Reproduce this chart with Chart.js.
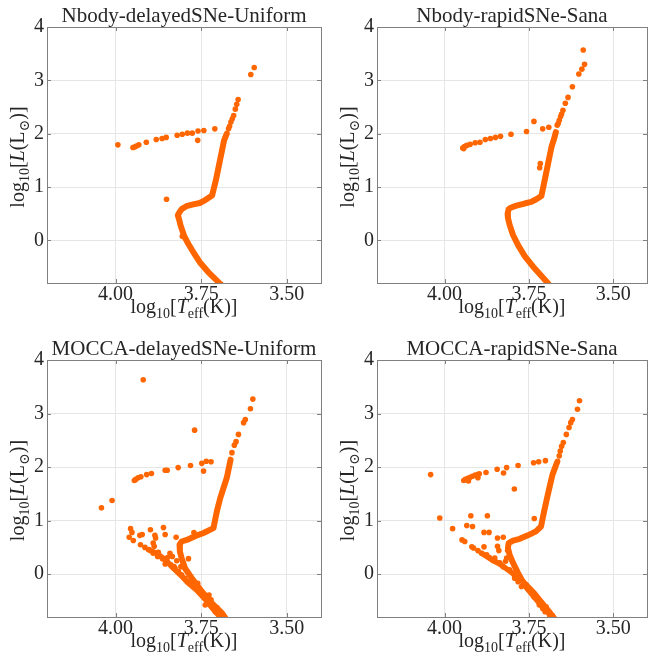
<!DOCTYPE html>
<html>
<head>
<meta charset="utf-8">
<script src="https://cdn.jsdelivr.net/npm/chart.js"></script>
<style>
  body { margin: 0; background: #fff; }
  #wrap { position: relative; width: 651px; height: 663px; overflow: hidden; }
  #wrap canvas { position: absolute; }
</style>
</head>
<body>
<div id="wrap">
  <canvas id="c1" width="325" height="330" style="left:0;top:0"></canvas>
  <canvas id="c2" width="326" height="330" style="left:325px;top:0"></canvas>
  <canvas id="c3" width="325" height="333" style="left:0;top:330px"></canvas>
  <canvas id="c4" width="326" height="333" style="left:325px;top:330px"></canvas>
</div>
<script>
const xTicks = [4.0, 3.75, 3.5];
const xTickLabels = ['4.00', '3.75', '3.50'];
const yTicks = [0, 1, 2, 3, 4];
const yTickLabels = ['0', '1', '2', '3', '4'];
const panelTitles = ['Nbody-delayedSNe-Uniform', 'Nbody-rapidSNe-Sana', 'MOCCA-delayedSNe-Uniform', 'MOCCA-rapidSNe-Sana'];

// [log10 Teff, log10 L] - dense single-star sequence of each panel
const nbodyDelayedTrack = [[3.675,2.00],[3.683,1.875],[3.695,1.50],[3.707,1.125],[3.718,0.84],[3.739,0.75],[3.754,0.70],[3.773,0.675],[3.793,0.64],[3.806,0.59],[3.813,0.53],[3.818,0.47],[3.815,0.41],[3.810,0.28],[3.800,0.09],[3.788,-0.06],[3.773,-0.22],[3.754,-0.41],[3.730,-0.59],[3.695,-0.81],[3.685,-0.87]];
const nbodyDelayedStars = [[3.595,3.24],[3.605,3.11],[3.642,2.64],[3.646,2.55],[3.650,2.46],[3.655,2.34],[3.659,2.28],[3.663,2.22],[3.667,2.14],[3.670,2.09],
  [3.993,1.79],[3.949,1.74],[3.944,1.75],[3.939,1.77],[3.932,1.79],[3.910,1.84],[3.881,1.89],[3.864,1.91],[3.852,1.93],[3.820,1.97],[3.805,1.99],[3.790,2.01],[3.776,2.01],[3.759,2.05],[3.742,2.06],[3.710,2.09],[3.760,1.875],[3.851,0.77],[3.805,0.075]];

const nbodyRapidTrack = [[3.670,2.03],[3.675,1.91],[3.683,1.75],[3.694,1.41],[3.704,1.10],[3.713,0.83],[3.728,0.77],[3.743,0.72],[3.763,0.69],[3.787,0.65],[3.804,0.61],[3.810,0.585],[3.813,0.50],[3.812,0.42],[3.807,0.29],[3.797,0.10],[3.782,-0.09],[3.763,-0.29],[3.738,-0.49],[3.714,-0.66],[3.694,-0.80],[3.687,-0.86]];
const nbodyRapidStars = [[3.589,3.57],[3.585,3.30],[3.593,3.21],[3.602,3.12],[3.621,2.88],[3.634,2.68],[3.642,2.57],[3.649,2.44],[3.653,2.37],[3.656,2.32],[3.660,2.25],[3.663,2.19],[3.666,2.16],
  [3.735,2.23],[3.709,2.09],[3.691,2.12],[3.757,2.04],[3.803,1.99],[3.834,1.95],[3.849,1.93],[3.864,1.91],[3.879,1.89],[3.895,1.84],[3.909,1.83],[3.924,1.80],[3.934,1.78],[3.941,1.76],[3.946,1.73],[3.943,1.72],[3.716,1.44],[3.718,1.36]];

const moccaDelayedTrack = [[3.664,2.14],[3.675,1.80],[3.694,1.425],[3.704,1.175],[3.714,0.86],[3.743,0.77],[3.768,0.71],[3.792,0.64],[3.807,0.61],[3.813,0.55],[3.812,0.425],[3.807,0.30],[3.797,0.11],[3.777,-0.075],[3.748,-0.325],[3.719,-0.54],[3.689,-0.73],[3.675,-0.86]];
// binary (lower) sequence that runs alongside the main sequence
const moccaDelayedBinaries = [[3.904,0.456],[3.880,0.39],[3.855,0.27],[3.831,0.11],[3.811,-0.01],[3.787,-0.17],[3.763,-0.30],[3.738,-0.47],[3.714,-0.66],[3.700,-0.76],[3.690,-0.86]];
const moccaDelayedStars = [[3.919,3.63],[3.599,3.27],[3.606,3.09],[3.621,2.89],[3.626,2.83],[3.641,2.61],[3.648,2.475],[3.653,2.41],[3.660,2.27],[3.769,2.69],
  [3.735,2.11],[3.721,2.10],[3.748,2.07],[3.743,1.925],[3.781,2.03],[3.817,1.99],[3.849,1.94],[3.855,1.94],[3.895,1.88],[3.909,1.86],[3.926,1.82],[3.934,1.80],[3.941,1.77],[3.945,1.75],[4.010,1.375],[4.041,1.24],
  [3.956,0.85],[3.952,0.78],[3.960,0.69],[3.948,0.63],[3.929,0.725],[3.922,0.74],[3.898,0.83],[3.860,0.87],[3.885,0.725],[3.883,0.675],[3.855,0.74],[3.823,0.69],[3.771,0.775],
  [3.927,0.55],[3.914,0.50],[3.890,0.58],[3.887,0.52],[3.875,0.41],[3.902,0.46],[3.890,0.39],[3.877,0.33],[3.863,0.29],[3.850,0.24],[3.838,0.175],[3.826,0.11],[3.816,0.05],[3.807,-0.01],[3.797,-0.075],[3.787,-0.14],
  [3.841,0.39],[3.834,0.33],[3.848,0.31],[3.855,0.19],[3.829,0.14],[3.809,0.14],[3.787,0.29],[3.821,0.25],
  [3.775,-0.17],[3.763,-0.23],[3.760,-0.17],[3.753,-0.29],[3.743,-0.375],[3.733,-0.45],[3.728,-0.525],[3.721,-0.48],[3.714,-0.59],[3.704,-0.625],[3.697,-0.70],[3.691,-0.75],[3.685,-0.775],[3.709,-0.70],[3.727,-0.39],[3.738,-0.575]];

const moccaRapidTrack = [[3.667,2.08],[3.680,1.86],[3.687,1.675],[3.696,1.425],[3.706,1.14],[3.714,0.89],[3.729,0.80],[3.753,0.725],[3.777,0.66],[3.797,0.625],[3.810,0.58],[3.812,0.49],[3.807,0.36],[3.797,0.21],[3.782,0.02],[3.763,-0.20],[3.738,-0.39],[3.714,-0.575],[3.689,-0.73],[3.670,-0.86]];
const moccaRapidBinaries = [[3.890,0.39],[3.860,0.27],[3.836,0.19],[3.812,0.08],[3.792,-0.01],[3.772,-0.11],[3.753,-0.23],[3.733,-0.36],[3.714,-0.51],[3.689,-0.70],[3.675,-0.83],[3.670,-0.87]];
const moccaRapidStars = [[3.600,3.24],[3.606,3.08],[3.621,2.89],[3.626,2.83],[3.631,2.74],[3.639,2.61],[3.648,2.46],[3.653,2.39],[3.657,2.30],[3.660,2.21],[3.665,2.11],
  [4.041,1.86],[3.943,1.75],[3.938,1.77],[3.931,1.79],[3.924,1.81],[3.917,1.83],[3.909,1.85],[3.901,1.86],[3.897,1.875],[3.929,1.74],[3.901,1.80],[3.877,1.90],[3.844,1.96],[3.825,1.89],[3.816,1.99],[3.782,2.03],[3.736,2.08],[3.721,2.10],[3.701,2.12],[3.793,1.59],[3.734,1.04],
  [4.014,1.05],[3.976,0.85],[3.922,1.09],[3.873,1.09],[3.934,0.91],[3.917,0.89],[3.883,0.78],[3.868,0.78],[3.948,0.64],[3.940,0.61],[3.843,0.675],[3.826,0.69],
  [3.919,0.51],[3.914,0.49],[3.901,0.44],[3.883,0.51],[3.890,0.39],[3.875,0.36],[3.867,0.31],[3.855,0.25],[3.851,0.30],[3.843,0.52],[3.839,0.44],[3.836,0.21],[3.826,0.14],[3.819,0.24],[3.816,0.30],[3.813,0.44],[3.807,0.08],[3.794,-0.01],[3.792,-0.075],[3.782,-0.14],[3.772,-0.23],[3.758,-0.20],[3.753,-0.275],[3.743,-0.325],[3.735,-0.42],[3.724,-0.45],[3.719,-0.575],[3.709,-0.64],[3.699,-0.61],[3.702,-0.70],[3.689,-0.76],[3.680,-0.775]];

const SERIF = "'Liberation Serif', 'DejaVu Serif', serif";
const INK = '#262626';
const ORANGE = '#ff6600';

const xLabelParts = [{t:'log'},{t:'10',sub:true},{t:'['},{t:'T',it:true},{t:'eff',sub:true},{t:'(K)]'}];
const yLabelParts = [{t:'log'},{t:'10',sub:true},{t:'['},{t:'L',it:true},{t:'(L'},{t:'\u2299',sub:true},{t:')]'}];

function drawRich(ctx, parts, x, y, size, rotate) {
  ctx.save();
  ctx.translate(x, y);
  if (rotate) ctx.rotate(-Math.PI / 2);
  let total = 0;
  const items = parts.map(p => {
    const s = p.sub ? size * 0.7 : size;
    const font = (p.it ? 'italic ' : '') + s + 'px ' + SERIF;
    ctx.font = font;
    const w = ctx.measureText(p.t).width;
    total += w;
    return { t: p.t, font, w, dy: p.sub ? size * 0.25 : 0 };
  });
  let cx = -total / 2;
  ctx.textAlign = 'left';
  ctx.textBaseline = 'alphabetic';
  ctx.fillStyle = INK;
  items.forEach(it => { ctx.font = it.font; ctx.fillText(it.t, cx, it.dy); cx += it.w; });
  ctx.restore();
}

// box round the axes, inward ticks and the two axis titles
const framePlugin = {
  id: 'frame',
  afterDatasetsDraw(chart) {
    const { ctx, chartArea: a, scales } = chart;
    ctx.save();
    ctx.strokeStyle = '#808080';
    ctx.lineWidth = 1;
    ctx.beginPath();
    xTicks.forEach(v => {
      const px = Math.round(scales.x.getPixelForValue(v)) + 0.5;
      ctx.moveTo(px, a.bottom); ctx.lineTo(px, a.bottom - 4);
      ctx.moveTo(px, a.top); ctx.lineTo(px, a.top + 4);
    });
    yTicks.forEach(v => {
      const py = Math.round(scales.y.getPixelForValue(v)) + 0.5;
      ctx.moveTo(a.left, py); ctx.lineTo(a.left + 4, py);
      ctx.moveTo(a.right, py); ctx.lineTo(a.right - 4, py);
    });
    ctx.stroke();
    ctx.strokeRect(Math.round(a.left) + 0.5, Math.round(a.top) + 0.5, Math.round(a.right - a.left), Math.round(a.bottom - a.top));
    ctx.restore();
  },
  afterDraw(chart) {
    const { ctx, chartArea: a } = chart;
    drawRich(ctx, xLabelParts, (a.left + a.right) / 2, a.bottom + 30, 20, false);
    drawRich(ctx, yLabelParts, a.left - 23, (a.top + a.bottom) / 2 + 2, 20, true);
  }
};

function lineSet(points, width) {
  return {
    data: points.map(p => ({ x: p[0], y: p[1] })),
    showLine: true,
    borderColor: ORANGE,
    borderWidth: width,
    borderCapStyle: 'round',
    borderJoinStyle: 'round',
    pointRadius: 0,
    clip: 0
  };
}

function makePanel(id, title, track, binaries, stars, yAxisWidth, padRight, titlePadTop, xAxisHeight) {
  const datasets = [lineSet(track, 6)];
  if (binaries) datasets.push(lineSet(binaries, 5.5));
  datasets.push({
    data: stars.map(p => ({ x: p[0], y: p[1] })),
    backgroundColor: ORANGE,
    borderWidth: 0,
    pointRadius: 2.8,
    clip: 0
  });
  new Chart(document.getElementById(id), {
    type: 'scatter',
    data: { datasets },
    options: {
      responsive: false,
      animation: false,
      events: [],
      layout: { padding: { left: 0, right: padRight, top: 0, bottom: 0 } },
      plugins: {
        legend: { display: false },
        tooltip: { enabled: false },
        title: {
          display: true,
          fullSize: false,
          text: title,
          color: INK,
          font: { family: SERIF, size: 21, weight: 'normal', lineHeight: 1 },
          padding: { top: titlePadTop, bottom: 0 }
        }
      },
      scales: {
        x: {
          type: 'linear',
          reverse: true,
          min: 3.4,
          max: 4.2,
          afterBuildTicks: s => { s.ticks = xTicks.map(v => ({ value: v })); },
          afterFit: s => { s.height = xAxisHeight; },
          ticks: {
            autoSkip: false,
            maxRotation: 0,
            padding: 0,
            color: INK,
            font: { family: SERIF, size: 20 },
            callback: (v, i) => xTickLabels[i]
          },
          grid: { color: '#e6e6e6', drawTicks: false },
          border: { display: false }
        },
        y: {
          type: 'linear',
          min: -0.8,
          max: 4,
          afterBuildTicks: s => { s.ticks = yTicks.map(v => ({ value: v })); },
          afterFit: s => { s.width = yAxisWidth; },
          ticks: {
            autoSkip: false,
            padding: 3,
            color: INK,
            font: { family: SERIF, size: 20 },
            callback: (v, i) => yTickLabels[i]
          },
          grid: { color: '#e6e6e6', drawTicks: false },
          border: { display: false }
        }
      }
    },
    plugins: [framePlugin]
  });
}

makePanel('c1', panelTitles[0], nbodyDelayedTrack, null, nbodyDelayedStars, 47, 4, 6, 47);
makePanel('c2', panelTitles[1], nbodyRapidTrack, null, nbodyRapidStars, 52, 1, 6, 47);
makePanel('c3', panelTitles[2], moccaDelayedTrack, moccaDelayedBinaries, moccaDelayedStars, 47, 4, 9, 46);
makePanel('c4', panelTitles[3], moccaRapidTrack, moccaRapidBinaries, moccaRapidStars, 52, 1, 9, 46);
</script>
</body>
</html>
